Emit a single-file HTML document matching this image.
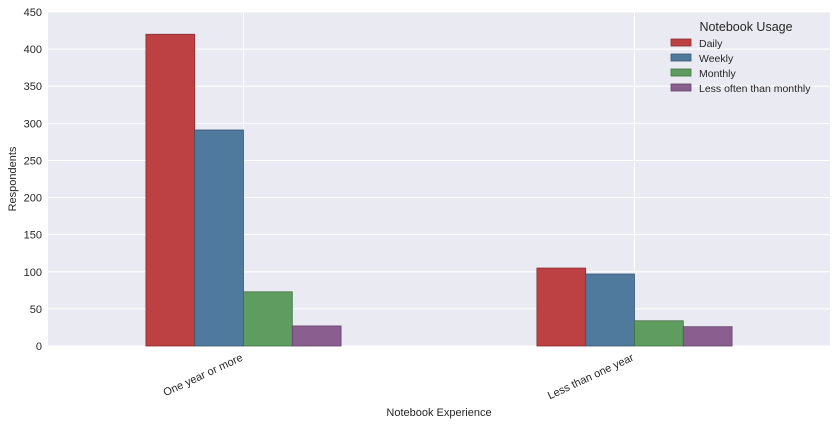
<!DOCTYPE html>
<html><head><meta charset="utf-8"><style>
body{margin:0;background:#fff;font-family:"Liberation Sans","DejaVu Sans",sans-serif;}
svg text{font-family:"Liberation Sans","DejaVu Sans",sans-serif;}
</style></head><body>
<svg id="chart" width="836" height="425" xmlns="http://www.w3.org/2000/svg"></svg>
<script>
const categories = ["One year or more", "Less than one year"];
const seriesNames = ["Daily", "Weekly", "Monthly", "Less often than monthly"];
const daily = [420, 105];
const weekly = [291, 97];
const monthly = [73, 34];
const lessOften = [27, 26];
const yTicks = [0, 50, 100, 150, 200, 250, 300, 350, 400, 450];

const series = [daily, weekly, monthly, lessOften];
const colors = ["#bd4043", "#4f7a9e", "#5f9c5f", "#8a5f90"];
const strokes = ["#8c2d30", "#36566f", "#437043", "#634468"];
const svg = document.getElementById('chart');
const NS = "http://www.w3.org/2000/svg";
const L = 48, R = 830, T = 12, B = 346;
const yMax = 450;
const y = v => B - v / yMax * (B - T);
const groupW = (R - L) / categories.length;
const x = i => L + groupW * (i + 0.5);
const barW = 48.8;
function el(tag, attrs, parent) {
  const e = document.createElementNS(NS, tag);
  for (const k in attrs) e.setAttribute(k, attrs[k]);
  (parent || svg).appendChild(e);
  return e;
}
const bg = el('rect', {x: L, y: T, width: R - L, height: B - T, fill: '#eaeaf2'});


yTicks.forEach(t => {
  const g = el('line', {x1: L, x2: R, y1: y(t), y2: y(t), stroke: '#fff', 'stroke-width': 1});
  
  
  const lb = el('text', {x: L - 6, y: y(t) + 4, 'text-anchor': 'end', 'font-size': 11, fill: '#262626'});
  lb.textContent = t;
  
  
});
categories.forEach((c, i) => {
  const g = el('line', {x1: x(i), x2: x(i), y1: T, y2: B, stroke: '#fff', 'stroke-width': 1});
  
  
});
categories.forEach((c, i) => {
  series.forEach((s, j) => {
    const bx = x(i) + (j - 2) * barW;
    const r = el('rect', {x: bx, y: y(s[i]), width: barW, height: B - y(s[i]), fill: colors[j], stroke: strokes[j], 'stroke-width': 0.8});
    
    
  });
  const lb = el('text', {x: x(i), y: B + 14, 'text-anchor': 'end', 'font-size': 11, fill: '#262626', transform: `rotate(-25 ${x(i)} ${B + 14})`});
  lb.textContent = c;
  
  
});
const xt = el('text', {x: (L + R) / 2, y: 416, 'text-anchor': 'middle', 'font-size': 11, fill: '#262626'});
xt.textContent = 'Notebook Experience';


const yt = el('text', {x: 16, y: (T + B) / 2, 'text-anchor': 'middle', 'font-size': 11, fill: '#262626', transform: `rotate(-90 16 ${(T + B) / 2})`});
yt.textContent = 'Respondents';


const lg = el('g', {});


const lt = el('text', {x: 746, y: 31, 'text-anchor': 'middle', 'font-size': 12.5, fill: '#262626'}, lg);
lt.textContent = 'Notebook Usage';


seriesNames.forEach((n, j) => {
  const yy = 43 + j * 15;
  const sw = el('rect', {x: 671, y: yy - 4, width: 20, height: 7, fill: colors[j], stroke: strokes[j], 'stroke-width': 0.8}, lg);
  
  
  const t = el('text', {x: 699, y: yy + 4, 'font-size': 10.5, fill: '#262626'}, lg);
  t.textContent = n;
  
  
});
</script>
</body></html>
